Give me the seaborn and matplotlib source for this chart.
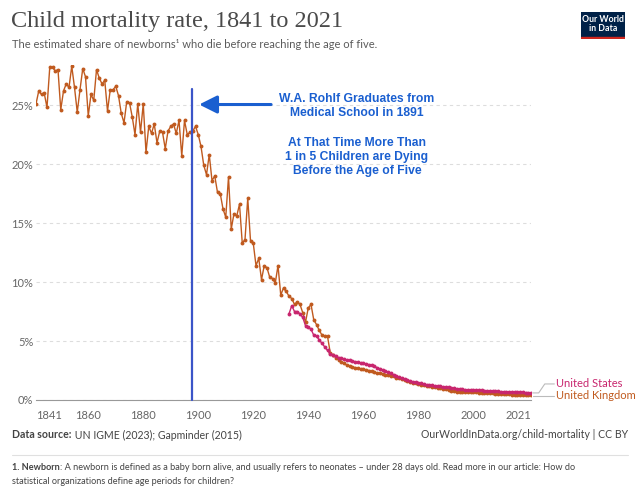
import numpy as np
import pandas as pd
import seaborn as sns
import matplotlib.pyplot as plt
from matplotlib.lines import Line2D

# UK child mortality (%), one value per year 1841-2021
uk_years = list(range(1841, 2022))
uk_values = [
    25.1, 26.2, 25.9, 26.0, 24.8, 28.2, 28.2, 27.9, 28.0, 24.6,  # 1841-1850
    26.2, 26.8, 26.5, 28.3, 26.5, 24.4, 26.3, 28.1, 27.4, 24.1,  # 1851-1860
    25.9, 25.4, 28.0, 27.3, 26.8, 27.1, 24.5, 26.3, 26.3, 26.6,  # 1861-1870
    25.8, 24.3, 23.5, 25.3, 25.2, 24.0, 22.5, 25.1, 22.7, 25.1,  # 1871-1880
    21.0, 23.2, 22.6, 23.4, 21.8, 22.8, 22.7, 21.3, 22.8, 23.2,  # 1881-1890
    23.4, 22.6, 23.7, 20.7, 23.7, 22.5, 22.7, 22.8, 23.2, 22.5,  # 1891-1900
    21.5, 19.9, 19.1, 20.8, 18.6, 19.0, 17.6, 17.5, 16.2, 15.5,  # 1901-1910
    18.9, 14.5, 15.8, 15.6, 16.6, 13.3, 13.6, 17.1, 13.5, 13.3,  # 1911-1920
    11.4, 12.0, 10.2, 11.4, 11.2, 10.4, 10.3, 9.9, 11.4, 8.9,    # 1921-1930
    9.5, 9.2, 8.8, 8.6, 8.1, 8.3, 8.1, 7.4, 6.6, 7.8,            # 1931-1940
    8.1, 6.8, 6.4, 5.9, 5.5, 5.4, 5.4, 4.0, 3.8, 3.6,            # 1941-1950
    3.4, 3.2, 3.1, 2.95, 2.85, 2.8, 2.75, 2.7, 2.65, 2.6,        # 1951-1960
    2.55, 2.5, 2.45, 2.35, 2.3, 2.25, 2.2, 2.15, 2.1, 2.05,      # 1961-1970
    2.0, 1.9, 1.85, 1.75, 1.7, 1.6, 1.5, 1.45, 1.4, 1.35,        # 1971-1980
    1.3, 1.25, 1.2, 1.15, 1.1, 1.1, 1.05, 1.0, 0.95, 0.92,       # 1981-1990
    0.85, 0.78, 0.74, 0.72, 0.7, 0.7, 0.68, 0.68, 0.67, 0.66,    # 1991-2000
    0.65, 0.63, 0.62, 0.6, 0.59, 0.57, 0.56, 0.55, 0.54, 0.52,   # 2001-2010
    0.5, 0.49, 0.47, 0.46, 0.45, 0.44, 0.44, 0.43, 0.42, 0.41,   # 2011-2020
    0.41,                                                        # 2021
]

# US child mortality (%), 1933-2021
us_years = list(range(1933, 2022))
us_values = [
    7.3, 8.0, 7.5, 7.5, 7.3, 7.0, 6.3, 6.2,                      # 1933-1940
    6.0, 5.5, 5.4, 5.1, 4.8, 4.5, 4.2, 3.9, 3.8, 3.7,            # 1941-1950
    3.6, 3.55, 3.45, 3.4, 3.35, 3.3, 3.25, 3.2, 3.15, 3.1,       # 1951-1960
    3.05, 3.0, 2.95, 2.85, 2.75, 2.65, 2.55, 2.45, 2.35, 2.25,   # 1961-1970
    2.15, 2.05, 1.95, 1.85, 1.78, 1.7, 1.62, 1.55, 1.5, 1.45,    # 1971-1980
    1.4, 1.35, 1.3, 1.27, 1.24, 1.21, 1.18, 1.15, 1.12, 1.1,     # 1981-1990
    1.06, 1.02, 0.99, 0.96, 0.93, 0.9, 0.88, 0.86, 0.85, 0.84,   # 1991-2000
    0.83, 0.82, 0.81, 0.8, 0.79, 0.78, 0.77, 0.75, 0.73, 0.71,   # 2001-2010
    0.7, 0.69, 0.68, 0.67, 0.66, 0.66, 0.65, 0.64, 0.63, 0.62,   # 2011-2020
    0.62,                                                        # 2021
]

x_ticks = [1841, 1860, 1880, 1900, 1920, 1940, 1960, 1980, 2000, 2021]
y_ticks = [0, 5, 10, 15, 20, 25]

uk_color = "#c05a1f"
us_color = "#c8266e"
note_blue = "#1a5fd0"
text_grey = "#444444"

df = pd.concat([
    pd.DataFrame({"year": uk_years, "rate": uk_values, "country": "United Kingdom"}),
    pd.DataFrame({"year": us_years, "rate": us_values, "country": "United States"}),
])

sns.set_theme(style="white")
plt.rcParams["font.family"] = ["Lato", "DejaVu Sans"]

fig = plt.figure(figsize=(6.4, 4.99), dpi=100)
ax = fig.add_axes([36 / 640, 1 - 400 / 499, 495 / 640, 335 / 499])

sns.lineplot(
    data=df, x="year", y="rate", hue="country",
    palette={"United Kingdom": uk_color, "United States": us_color},
    hue_order=["United Kingdom", "United States"],
    marker="o", markersize=2.8, markeredgewidth=0, linewidth=1.0,
    legend=False, ax=ax,
)

ax.set_xlim(1841, 2021)
ax.set_ylim(0, 28.4)
ax.set_xticks(x_ticks)
ax.set_xticklabels([str(t) for t in x_ticks])
# first and last year labels sit inside the axis ends
xlabels = ax.get_xticklabels()
xlabels[0].set_ha("left")
xlabels[-1].set_ha("right")
ax.set_yticks(y_ticks)
ax.set_yticklabels([f"{t}%" for t in y_ticks])
ax.set_xlabel("")
ax.set_ylabel("")
ax.tick_params(axis="y", labelsize=8, colors="#666666", length=0, pad=2)
ax.tick_params(axis="x", labelsize=8, labelcolor="#666666", length=4,
               color="#999999", direction="out", pad=3)
ax.yaxis.grid(True, linestyle=(0, (3, 3)), color="#dddddd", linewidth=0.8)
ax.xaxis.grid(False)
for s in ["top", "right", "left"]:
    ax.spines[s].set_visible(False)
ax.spines["bottom"].set_color("#999999")
ax.spines["bottom"].set_linewidth(0.8)
ax.set_axisbelow(True)

# vertical marker line and annotation
ax.plot([1897.7, 1897.7], [0, 26.4], color="#3b55c8", linewidth=1.6, zorder=5, clip_on=False)
ax.annotate(
    "", xy=(1899.3, 25.05), xytext=(1927.5, 25.05),
    arrowprops=dict(arrowstyle="-|>,head_length=0.9,head_width=0.45",
                    color=note_blue, linewidth=2.2),
)
ax.text(1957.7, 24.9, "W.A. Rohlf Graduates from\nMedical School in 1891",
        ha="center", va="center", color=note_blue, fontsize=8.7,
        fontweight="bold", family=["Liberation Sans"], linespacing=1.25)
ax.text(1957.7, 20.6, "At That Time More Than\n1 in 5 Children are Dying\nBefore the Age of Five",
        ha="center", va="center", color=note_blue, fontsize=8.7,
        fontweight="bold", family=["Liberation Sans"], linespacing=1.25)

# end labels with connectors
ax.add_line(Line2D([2021.6, 2023.8, 2026.0, 2029.5], [0.6, 0.6, 1.36, 1.36],
                   color="#bbbbbb", linewidth=0.8, clip_on=False))
ax.add_line(Line2D([2021.6, 2029.5], [0.38, 0.38],
                   color="#bbbbbb", linewidth=0.8, clip_on=False))
ax.text(2030.2, 1.36, "United States", color=us_color, fontsize=8,
        va="center", ha="left", clip_on=False)
ax.text(2030.2, 0.38, "United Kingdom", color=uk_color, fontsize=8,
        va="center", ha="left", clip_on=False)

# header
fig.text(11 / 640, 1 - 22 / 499, "Child mortality rate, 1841 to 2021",
         family=["Liberation Serif"], fontsize=17.5, color="#4a4a4a", va="center")
fig.text(12 / 640, 1 - 45 / 499,
         "The estimated share of newborns¹ who die before reaching the age of five.",
         fontsize=8.0, color="#5b5b5b", va="center")

# logo
logo = fig.add_axes([581 / 640, 1 - 39 / 499, 44 / 640, 27 / 499])
logo.set_facecolor("#002147")
logo.set_xticks([])
logo.set_yticks([])
for s in logo.spines.values():
    s.set_visible(False)
logo.axhspan(0, 0.09, color="#ce261e")
logo.set_xlim(0, 1)
logo.set_ylim(0, 1)
logo.text(0.5, 0.55, "Our World\nin Data", color="white", fontsize=6.3, fontweight="bold",
          ha="center", va="center", linespacing=1.05)

# footer
src = fig.text(12 / 640, 1 - 435 / 499, "Data source:", fontsize=7.6,
               fontweight="bold", color=text_grey, va="center")
ax.annotate(" UN IGME (2023); Gapminder (2015)", xy=(1, 0.5), xycoords=src,
            fontsize=7.6, color=text_grey, va="center", ha="left",
            annotation_clip=False)
fig.text(628 / 640, 1 - 435 / 499, "OurWorldInData.org/child-mortality | CC BY",
         fontsize=7.6, color=text_grey, va="center", ha="right")
fig.add_artist(Line2D([12 / 640, 628 / 640], [1 - 455 / 499, 1 - 455 / 499],
                      color="#e0e0e0", linewidth=0.8))
note = fig.text(12 / 640, 1 - 468 / 499, "1. Newborn", fontsize=6.6,
                fontweight="bold", color=text_grey, va="center")
ax.annotate(": A newborn is defined as a baby born alive, and usually refers to neonates – "
            "under 28 days old. Read more in our article: How do",
            xy=(1, 0.5), xycoords=note, fontsize=6.6, color=text_grey,
            va="center", ha="left", annotation_clip=False)
fig.text(12 / 640, 1 - 482 / 499,
         "statistical organizations define age periods for children?",
         fontsize=6.6, color=text_grey, va="center")

fig.savefig("out.png", dpi=100)
